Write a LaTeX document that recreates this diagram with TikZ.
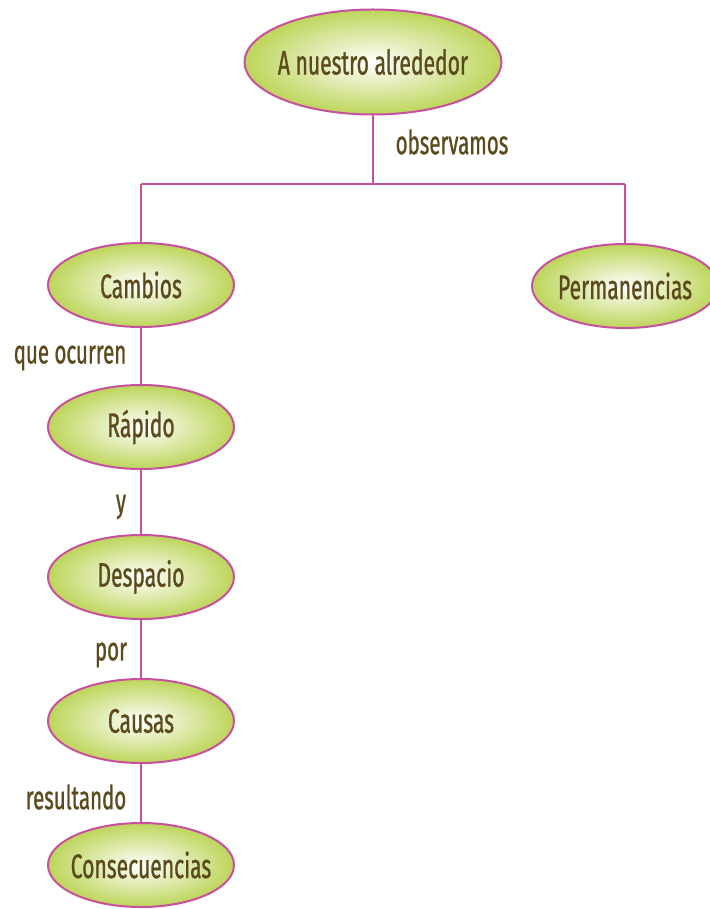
\documentclass[tikz,border=0pt]{standalone}
\usepackage{fontspec}
\newfontfamily\mapfont{Fira Sans}[FakeStretch=0.62,FakeBold=0.8]
\usetikzlibrary{shapes.geometric}
\definecolor{mapedge}{HTML}{C7509F}
\definecolor{mapgreen}{HTML}{BDD55A}
\definecolor{mapink}{HTML}{5A4A1C}
\tikzset{
  blob/.style={ellipse, draw=mapedge, line width=2pt, inner color=white, outer color=mapgreen,
    minimum width=186pt, minimum height=84pt, inner xsep=-12pt, inner ysep=0pt, font=\mapfont\fontsize{34}{36}\selectfont, text=mapink},
  link/.style={draw=mapedge, line width=2pt},
  lbl/.style={font=\mapfont\fontsize{33}{36}\selectfont, text=mapink, inner sep=0pt},
}
\begin{document}
\begin{tikzpicture}[x=1pt,y=-1pt]
  \useasboundingbox (0,0) rectangle (709,909);
  \node[blob, minimum width=257pt, minimum height=105pt] (top) at (373,62) {A nuestro alrededor};
  \node[blob] (cambios) at (141,285) {Cambios};
  \node[blob] (perm) at (625,286) {Permanencias};
  % chain on the left
  \foreach \nm/\y/\ti in {rapido/427/Rápido, despacio/577/Despacio, causas/721/Causas, conse/865/Consecuencias}
    \node[blob] (\nm) at (141,\y) {\ti};
  \coordinate (split) at (373,184);
  \coordinate (lft) at (141,184);
  \coordinate (rgt) at (625,184);
  \draw[link] (top.south) -- (split);
  \draw[link] (lft) -- (rgt);
  \draw[link] (lft) -- (cambios.north);
  \draw[link] (rgt) -- (perm.north);
  \foreach \a/\b in {cambios/rapido, rapido/despacio, despacio/causas, causas/conse}
    \draw[link] (\a.south) -- (\b.north);
  % link words
  \node[lbl] (obs) at (452,142) {observamos};
  \node[lbl] (que) at (70,358) {que ocurren};
  \node[lbl] (yy) at (121,507) {y};
  \node[lbl] (por) at (111,655) {por};
  \node[lbl] (res) at (76,797) {resultando};
\end{tikzpicture}
\end{document}
